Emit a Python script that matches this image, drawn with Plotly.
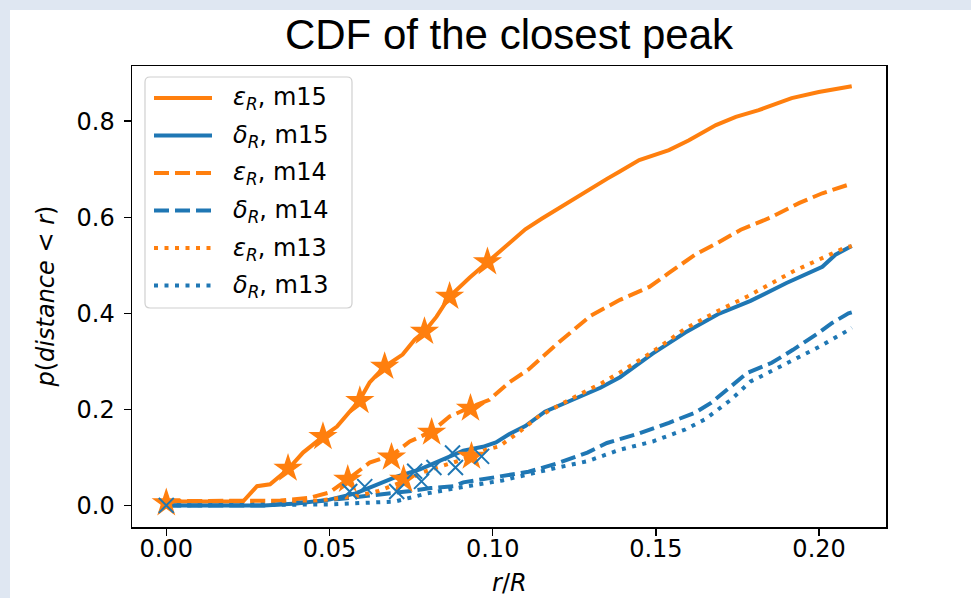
import plotly.graph_objects as go

# ---------------- data ----------------
eps_m15_x = [0, 0.0235, 0.0278, 0.0318, 0.0373, 0.0419, 0.048, 0.0523, 0.0593, 0.0623, 0.0669, 0.0724,
             0.0761, 0.0791, 0.0828, 0.0868, 0.0929, 0.0984, 0.1051, 0.11, 0.115, 0.12, 0.125, 0.13,
             0.135, 0.1388, 0.1449, 0.154, 0.16, 0.1684, 0.1745, 0.1815, 0.1916, 0.1999, 0.21]
eps_m15_y = [0.008, 0.008, 0.04, 0.044, 0.075, 0.11, 0.143, 0.164, 0.22, 0.256, 0.289, 0.314,
             0.345, 0.362, 0.393, 0.435, 0.474, 0.507, 0.545, 0.575, 0.597, 0.618, 0.64, 0.66,
             0.68, 0.695, 0.719, 0.74, 0.76, 0.792, 0.809, 0.823, 0.848, 0.861, 0.873]

del_m15_x = [0, 0.03, 0.04, 0.05, 0.058, 0.065, 0.0706, 0.0777, 0.086, 0.091, 0.097, 0.101, 0.105,
             0.11, 0.116, 0.1265, 0.133, 0.139, 0.149, 0.159, 0.169, 0.179, 0.19, 0.201, 0.205, 0.21]
del_m15_y = [0, 0.0, 0.004, 0.012, 0.025, 0.044, 0.06, 0.075, 0.10, 0.114, 0.122, 0.131, 0.148,
             0.165, 0.195, 0.227, 0.245, 0.267, 0.316, 0.36, 0.398, 0.426, 0.463, 0.497, 0.522, 0.54]

eps_m14_x = [0, 0.035, 0.044, 0.05, 0.0556, 0.0623, 0.069, 0.0746, 0.0813, 0.0868, 0.093, 0.099,
             0.105, 0.111, 0.12, 0.13, 0.139, 0.148, 0.154, 0.162, 0.169, 0.176, 0.185, 0.194,
             0.201, 0.209, 0.21]
eps_m14_y = [0.009, 0.01, 0.016, 0.027, 0.054, 0.089, 0.104, 0.133, 0.154, 0.185, 0.204, 0.22,
             0.256, 0.283, 0.338, 0.395, 0.428, 0.455, 0.484, 0.522, 0.547, 0.574, 0.599, 0.63,
             0.65, 0.669, 0.67]

del_m14_x = [0, 0.03, 0.046, 0.06, 0.075, 0.081, 0.088, 0.091, 0.103, 0.111, 0.12, 0.129, 0.135,
             0.144, 0.154, 0.162, 0.167, 0.173, 0.178, 0.1855, 0.192, 0.2, 0.204, 0.209, 0.21]
del_m14_y = [0, 0, 0.008, 0.018, 0.03, 0.036, 0.04, 0.048, 0.06, 0.07, 0.088, 0.11, 0.13,
             0.148, 0.172, 0.193, 0.214, 0.248, 0.276, 0.297, 0.324, 0.36, 0.38, 0.40, 0.402]

eps_m13_x = [0, 0.045, 0.058, 0.065, 0.0727, 0.0786, 0.084, 0.093, 0.098, 0.102, 0.108, 0.114,
             0.1235, 0.1335, 0.139, 0.149, 0.159, 0.169, 0.178, 0.184, 0.192, 0.2, 0.208, 0.21]
eps_m13_y = [0.009, 0.009, 0.019, 0.03, 0.05, 0.069, 0.081, 0.10, 0.116, 0.123, 0.152, 0.185,
             0.22, 0.255, 0.277, 0.32, 0.368, 0.405, 0.435, 0.458, 0.487, 0.512, 0.537, 0.54]

del_m13_x = [0, 0.04, 0.05, 0.07, 0.08, 0.088, 0.103, 0.12, 0.129, 0.139, 0.149, 0.159, 0.165,
             0.173, 0.179, 0.182, 0.192, 0.2, 0.209, 0.21]
del_m13_y = [0, 0, 0.002, 0.008, 0.025, 0.035, 0.052, 0.079, 0.092, 0.116, 0.133, 0.158, 0.179,
             0.22, 0.258, 0.268, 0.303, 0.33, 0.365, 0.37]

star_x = [0, 0.0373, 0.048, 0.0593, 0.0669, 0.0791, 0.0868, 0.0984,
          0.0556, 0.069, 0.0813, 0.0932, 0.0727, 0.0935]
star_y = [0.005, 0.077, 0.143, 0.218, 0.289, 0.362, 0.435, 0.507,
          0.054, 0.10, 0.152, 0.202, 0.054, 0.102]

cross_x = [0, 0.0562, 0.0608, 0.0706, 0.0761, 0.0782, 0.082, 0.0877, 0.0886, 0.0966]
cross_y = [0, 0.029, 0.039, 0.029, 0.071, 0.05, 0.079, 0.109, 0.079, 0.102]

legend_labels = ["<i>ε</i><sub><i>R</i></sub>, m15", "<i>δ</i><sub><i>R</i></sub>, m15",
                 "<i>ε</i><sub><i>R</i></sub>, m14", "<i>δ</i><sub><i>R</i></sub>, m14",
                 "<i>ε</i><sub><i>R</i></sub>, m13", "<i>δ</i><sub><i>R</i></sub>, m13"]

xtick_vals = [0, 0.05, 0.10, 0.15, 0.20]
xtick_text = ["0.00", "0.05", "0.10", "0.15", "0.20"]
ytick_vals = [0, 0.2, 0.4, 0.6, 0.8]
ytick_text = ["0.0", "0.2", "0.4", "0.6", "0.8"]

title_text = "CDF of the closest peak"
xlabel = "<i>r</i>/<i>R</i>"
ylabel = "<i>p</i>(<i>distance</i> &lt; <i>r</i>)"

# ---------------- styling ----------------
C0 = "#1f77b4"
C1 = "#ff7f0e"
LW = 4
DASH = "15px,6px"
DOT = "4px,6.5px"
FONT = "DejaVu Sans"

W, H = 971, 598
L, R, T, B = 132, 85, 66, 71
PW, PH = W - L - R, H - T - B


def px_x(p):
    return (p - L) / PW


def px_y(p):
    return (H - B - p) / PH


series = [
    (eps_m15_x, eps_m15_y, C1, "solid"),
    (del_m15_x, del_m15_y, C0, "solid"),
    (eps_m14_x, eps_m14_y, C1, DASH),
    (del_m14_x, del_m14_y, C0, DASH),
    (eps_m13_x, eps_m13_y, C1, DOT),
    (del_m13_x, del_m13_y, C0, DOT),
]

fig = go.Figure()
for (xs, ys, col, dash), name in zip(series, legend_labels):
    fig.add_trace(go.Scatter(x=xs, y=ys, mode="lines", name=name, showlegend=False,
                             line=dict(color=col, width=LW, dash=dash), hoverinfo="skip"))

fig.add_trace(go.Scatter(x=star_x, y=star_y, mode="markers", showlegend=False,
                         marker=dict(symbol="star", size=22, color=C1, line=dict(width=0))))
fig.add_trace(go.Scatter(x=cross_x, y=cross_y, mode="markers", showlegend=False,
                         marker=dict(symbol="x-thin", size=15, color=C0,
                                     line=dict(width=2, color=C0))))

shapes = []
annotations = []

# white page area (reference has a thin light-blue frame at left/top)
shapes.append(dict(type="rect", xref="paper", yref="paper", layer="below",
                   x0=px_x(10), x1=px_x(W + 5), y0=px_y(H + 5), y1=px_y(10),
                   fillcolor="white", line=dict(width=0)))

# legend box with rounded corners
bx0, bx1, by0, by1 = 145, 352, 77, 308
r = 5.0
rx, ry = r / PW, r / PH
X0, X1, Y0, Y1 = px_x(bx0), px_x(bx1), px_y(by1), px_y(by0)
path = (f"M{X0 + rx},{Y1} L{X1 - rx},{Y1} Q{X1},{Y1} {X1},{Y1 - ry} "
        f"L{X1},{Y0 + ry} Q{X1},{Y0} {X1 - rx},{Y0} L{X0 + rx},{Y0} "
        f"Q{X0},{Y0} {X0},{Y0 + ry} L{X0},{Y1 - ry} Q{X0},{Y1} {X0 + rx},{Y1} Z")
shapes.append(dict(type="path", xref="paper", yref="paper", path=path,
                   fillcolor="rgba(255,255,255,0.8)", line=dict(color="#d0d0d0", width=1.2)))

row_y = [98, 135.5, 173, 210.5, 248, 285.5]
for (xs, ys, col, dash), name, ry_ in zip(series, legend_labels, row_y):
    shapes.append(dict(type="line", xref="paper", yref="paper",
                       x0=px_x(154), x1=px_x(212), y0=px_y(ry_), y1=px_y(ry_),
                       line=dict(color=col, width=LW, dash=dash)))
    annotations.append(dict(xref="paper", yref="paper", x=px_x(231), y=px_y(ry_ + 1),
                            xanchor="left", yanchor="middle", showarrow=False, text=name,
                            font=dict(family=FONT, size=24, color="black")))

# axis labels
annotations.append(dict(xref="paper", yref="paper", x=0.5, y=px_y(583), xanchor="center",
                        yanchor="middle", showarrow=False, text=xlabel,
                        font=dict(family=FONT, size=24, color="black")))
annotations.append(dict(xref="paper", yref="paper", x=px_x(45), y=0.5, xanchor="center",
                        yanchor="middle", showarrow=False, text=ylabel, textangle=-90,
                        font=dict(family=FONT, size=24, color="black")))

fig.update_layout(
    width=W, height=H, autosize=False,
    margin=dict(l=L, r=R, t=T, b=B, pad=0),
    paper_bgcolor="#dfe7f2", plot_bgcolor="white",
    title=dict(text=title_text, x=0.5, xref="paper", xanchor="center",
               y=1 - 34 / H, yref="container", yanchor="middle",
               font=dict(family="Liberation Sans", size=42, color="black")),
    shapes=shapes, annotations=annotations,
    showlegend=False,
)

axis_common = dict(showgrid=False, zeroline=False, showline=True, mirror=True,
                   linecolor="black", linewidth=1.5, ticks="outside", ticklen=7,
                   tickwidth=1.5, tickcolor="black",
                   tickfont=dict(family=FONT, size=24, color="black"))
fig.update_xaxes(range=[-0.0105, 0.2205], tickvals=xtick_vals, ticktext=xtick_text,
                 ticklabelstandoff=-7, **axis_common)
fig.update_yaxes(range=[-0.045, 0.915], tickvals=ytick_vals, ticktext=ytick_text,
                 ticklabelstandoff=4, **axis_common)

fig.write_html(
    "out.html",
    config={"displayModeBar": False, "staticPlot": True},
    post_script="document.body.style.margin='0';document.body.style.overflow='hidden';",
)
